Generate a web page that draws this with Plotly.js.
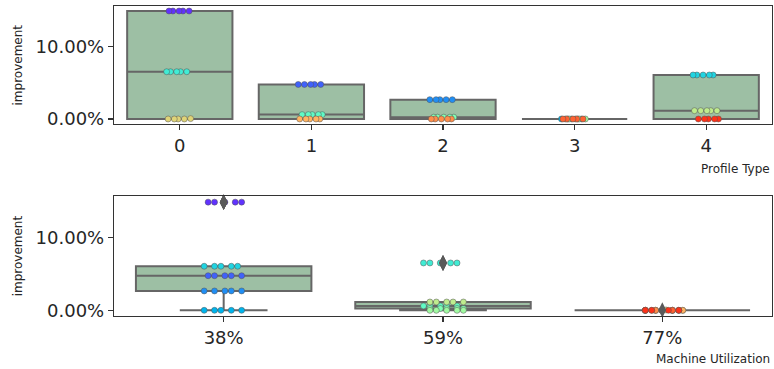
<!DOCTYPE html>
<html><head><meta charset="utf-8">
<script src="https://cdn.plot.ly/plotly-3.0.1.min.js"></script>
<style>html,body{margin:0;padding:0;background:#fff}#chart{width:774px;height:369px}</style>
</head><body><div id="chart"></div>
<script>
// ---- data ----
const profileTypes = ['0', '1', '2', '3', '4'];
const utilizations = ['38%', '59%', '77%'];
// improvement (%) of each instance, one row per profile type (0..4)
const improvement38 = [
  [14.85, 14.85, 14.85, 14.85, 14.85],
  [4.75, 4.75, 4.75, 4.75, 4.75],
  [2.66, 2.66, 2.66, 2.66, 2.66],
  [0.00, 0.00, 0.00, 0.00, 0.00],
  [6.05, 6.05, 6.05, 6.05, 6.05]
];
const improvement59 = [
  [6.50, 6.50, 6.50, 6.50, 6.50],
  [0.60, 0.60, 0.60, 0.60, 0.60],
  [0.25, 0.25, 0.25, 0.25, 0.25],
  [0.00, 0.00, 0.00, 0.00, 0.00],
  [1.14, 1.14, 1.14, 1.14, 1.14]
];
const improvement77 = [
  [0.00, 0.00, 0.00, 0.00, 0.05],
  [0.00, 0.00, 0.00, 0.00, 0.00],
  [0.00, 0.00, 0.00, 0.00, 0.00],
  [0.00, 0.00, 0.00, 0.00, 0.00],
  [0.00, 0.00, 0.00, 0.00, 0.00]
];
// hue colours (utilization x profile), rainbow palette
const huePalette = ['#6032fe', '#4062fa', '#208ef4', '#00b4ec', '#20d4e1',
                    '#40ecd4', '#60fac5', '#80ffb4', '#a0faa2', '#bfec8e',
                    '#dfd478', '#ffb462', '#ff8e4a', '#ff6232', '#ff3219'];

// ---- styles ----
const BOX_FILL = '#9dbfa4';
const BOX_LINE = '#666666';
const AXIS = '#333333';
const TXT = '#262626';
const FONT = 'DejaVu Sans';

const groups = [improvement38, improvement59, improvement77];

const topX = [], topY = [], botX = [], botY = [];
groups.forEach((rows, u) => rows.forEach((vals, p) => vals.forEach(v => {
  topX.push(p); topY.push(v / 100);
  botX.push(u); botY.push(v / 100);
})));

function boxTrace(xs, ys, xa, ya) {
  return {type: 'box', x: xs, y: ys, xaxis: xa, yaxis: ya, width: 0.8,
    quartilemethod: 'linear', whiskerwidth: 0.5, boxpoints: 'outliers',
    jitter: 0, pointpos: 0, hoverinfo: 'skip', showlegend: false,
    fillcolor: BOX_FILL, line: {color: BOX_LINE, width: 2},
    marker: {opacity: 0, size: 1}};
}

// quantile with linear interpolation (same as the box quartile method)
function quantile(sorted, q) {
  const pos = (sorted.length - 1) * q;
  const lo = Math.floor(pos), hi = Math.ceil(pos);
  return sorted[lo] + (sorted[hi] - sorted[lo]) * (pos - lo);
}

// outliers (beyond 1.5 IQR) drawn as diamonds above the points
function flierTrace(xs, ys, xa, ya) {
  const byCat = {};
  xs.forEach((c, i) => { (byCat[c] = byCat[c] || []).push(ys[i]); });
  const fx = [], fy = [];
  Object.keys(byCat).forEach(c => {
    const s = byCat[c].slice().sort((a, b) => a - b);
    const q1 = quantile(s, 0.25), q3 = quantile(s, 0.75), iqr = q3 - q1;
    s.forEach(v => {
      if (v < q1 - 1.5 * iqr || v > q3 + 1.5 * iqr) { fx.push(+c); fy.push(v); }
    });
  });
  return {type: 'scatter', mode: 'markers', x: fx, y: fy, xaxis: xa, yaxis: ya,
    marker: {symbol: 'diamond-tall', size: 11, color: '#5a5a5a', line: {width: 0}},
    hoverinfo: 'skip', showlegend: false, cliponaxis: false};
}

function jitter(i, seed) {
  const f = ((i + 1) * 0.6180339887 + seed * 0.3819660113) % 1;
  return 0.1 * (2 * f - 1);
}

function pointTraces(useProfileAxis, xa, ya) {
  const out = [];
  groups.forEach((rows, u) => rows.forEach((vals, p) => {
    const k = u * 5 + p;
    const cat = useProfileAxis ? p : u;
    out.push({
      type: 'scatter', mode: 'markers', xaxis: xa, yaxis: ya,
      x: vals.map((v, i) => cat + jitter(i, k + (useProfileAxis ? 0 : 7))),
      y: vals.map(v => v / 100),
      marker: {color: huePalette[k], size: 6, line: {color: '#555', width: 0.5}},
      hoverinfo: 'skip', showlegend: false, cliponaxis: false
    });
  }));
  return out;
}

const data = [boxTrace(topX, topY, 'x', 'y'), boxTrace(botX, botY, 'x2', 'y2')]
  .concat(pointTraces(true, 'x', 'y'))
  .concat(pointTraces(false, 'x2', 'y2'))
  .concat([flierTrace(topX, topY, 'x', 'y'), flierTrace(botX, botY, 'x2', 'y2')]);

const axisCommon = {
  showline: true, mirror: true, linecolor: AXIS, linewidth: 1.2,
  showgrid: false, zeroline: false, ticks: 'outside', ticklen: 5,
  tickwidth: 1.2, tickcolor: AXIS, tickfont: {family: FONT, size: 18, color: TXT}
};

const layout = {
  width: 774, height: 369,
  margin: {l: 114, r: 2, t: 6, b: 53},
  paper_bgcolor: '#ffffff', plot_bgcolor: '#ffffff',
  font: {family: FONT, color: TXT},
  showlegend: false,
  xaxis: Object.assign({}, axisCommon, {domain: [0, 1], anchor: 'y', range: [-0.5, 4.5],
    tickvals: [0, 1, 2, 3, 4], ticktext: profileTypes}),
  yaxis: Object.assign({}, axisCommon, {domain: [0.6194, 1], anchor: 'x', range: [-0.0069, 0.1554],
    tickvals: [0, 0.1], tickformat: '.2%'}),
  xaxis2: Object.assign({}, axisCommon, {domain: [0, 1], anchor: 'y2', range: [-0.5, 2.5],
    tickvals: [0, 1, 2], ticktext: utilizations}),
  yaxis2: Object.assign({}, axisCommon, {domain: [0, 0.388], anchor: 'x2', range: [-0.0078, 0.1573],
    tickvals: [0, 0.1], tickformat: '.2%'}),
  annotations: [
    {text: 'improvement', xref: 'paper', x: 0, xanchor: 'center', xshift: -96.5,
     yref: 'y domain', y: 0.5, yanchor: 'middle', textangle: -90, showarrow: false,
     font: {family: FONT, size: 12, color: TXT}},
    {text: 'improvement', xref: 'paper', x: 0, xanchor: 'center', xshift: -96.5,
     yref: 'y2 domain', y: 0.5, yanchor: 'middle', textangle: -90, showarrow: false,
     font: {family: FONT, size: 12, color: TXT}},
    {text: 'Profile Type', xref: 'x domain', x: 1, xanchor: 'right',
     yref: 'y domain', y: 0, yanchor: 'middle', yshift: -45, showarrow: false,
     font: {family: FONT, size: 12, color: TXT}},
    {text: 'Machine Utilization', xref: 'x2 domain', x: 1, xanchor: 'right',
     yref: 'y2 domain', y: 0, yanchor: 'middle', yshift: -43, showarrow: false,
     font: {family: FONT, size: 12, color: TXT}}
  ]
};

Plotly.newPlot('chart', data, layout, {staticPlot: true, displayModeBar: false});
</script>
</body></html>
